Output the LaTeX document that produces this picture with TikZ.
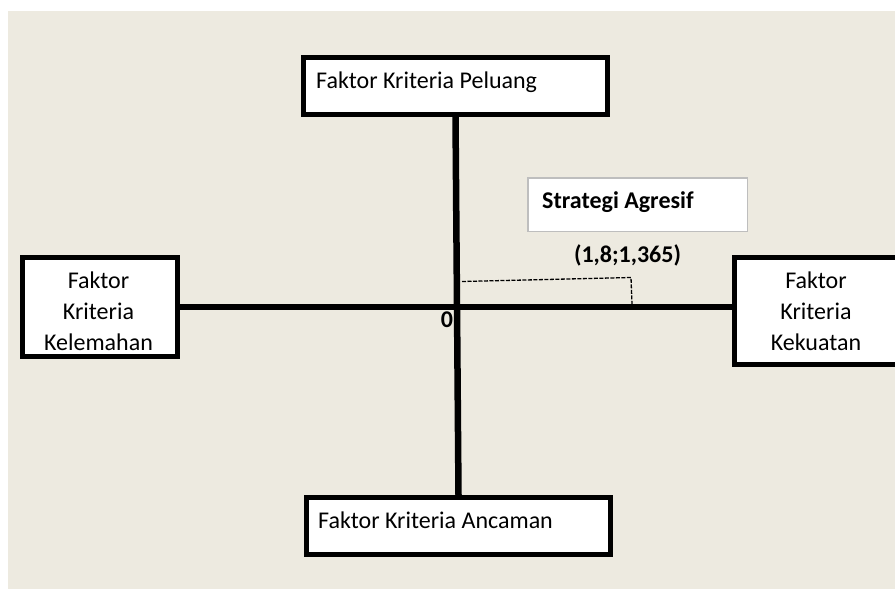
\documentclass[tikz,border=0pt]{standalone}
\usepackage{fontspec}
\setmainfont{Carlito}
\definecolor{bgbeige}{RGB}{237,234,224}
\definecolor{boxgray}{RGB}{190,190,190}
\begin{document}
\begin{tikzpicture}[x=1pt,y=-1pt,
  box/.style={draw=black, line width=5pt, fill=white, rectangle, inner sep=0pt},
  softbox/.style={draw=boxgray, line width=1.5pt, fill=white, rectangle, inner sep=0pt},
  axisline/.style={line width=6.5pt},
  guide/.style={line width=1.3pt, dash pattern=on 4pt off 1.5pt},
  lbl/.style={font=\fontsize{24}{31}\selectfont, inner sep=0pt},
  blbl/.style={font=\fontsize{24}{31}\selectfont\bfseries, inner sep=0pt}]
\useasboundingbox (0,0) rectangle (895,589);
\clip (0,0) rectangle (895,589);
\fill[bgbeige] (8,11) rectangle (895,589);
% boxes
\node[box, minimum width=304pt, minimum height=57pt] (peluang) at (455.5,86) {};
\node[box, minimum width=155pt, minimum height=99pt] (kelemahan) at (100,307) {};
\node[box, minimum width=170.5pt, minimum height=107pt] (kekuatan) at (819.75,311) {};
\node[box, minimum width=304pt, minimum height=57pt] (ancaman) at (458.5,526) {};
\node[softbox, minimum width=219.5pt, minimum height=53.5pt] (agresif) at (637.5,204.5) {};
% axes
\draw[axisline] (peluang.south) -- (ancaman.north);
\draw[axisline] (kelemahan.east) -- (kelemahan.east -| kekuatan.west);
% guide to the point
\coordinate (d1) at (462,281.5);
\coordinate (d2) at (631,277.5);
\coordinate (d3) at (632,304);
\draw[guide] (d1) -- (d2) -- (d3);
% texts
\node[lbl, anchor=base west] (tpel) at (316,88) {Faktor Kriteria Peluang};
\node[lbl, anchor=base west] (tanc) at (318,528) {Faktor Kriteria Ancaman};
\node[lbl, align=center, anchor=base] (tkel) at (98.5,350) {Faktor\\Kriteria\\Kelemahan};
\node[lbl, align=center, anchor=base] (tkek) at (816,350) {Faktor\\Kriteria\\Kekuatan};
\node[blbl, anchor=base west] (tstr) at (542,208) {Strategi Agresif};
\node[blbl, anchor=base] (tcoord) at (627.5,262) {(1,8;1,365)};
\node[blbl, anchor=base] (tzero) at (447,327) {0};
\end{tikzpicture}
\end{document}
